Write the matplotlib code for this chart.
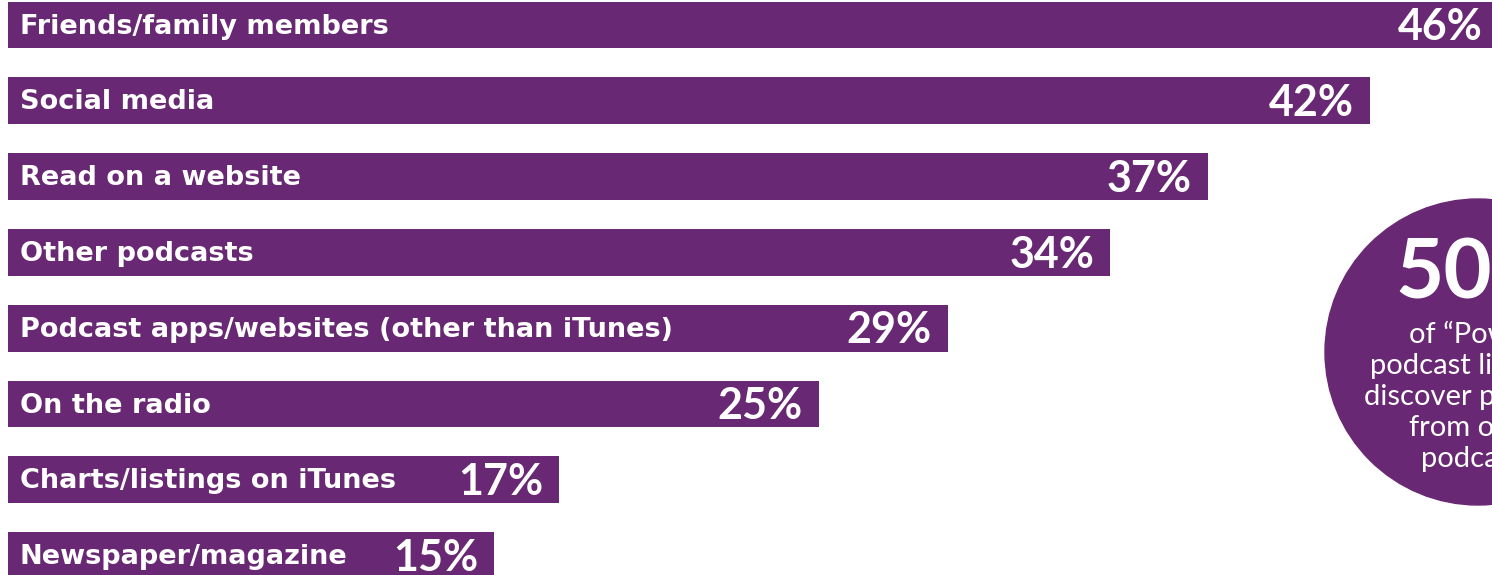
import matplotlib.pyplot as plt
from matplotlib.patches import Ellipse

categories = ['Friends/family members', 'Social media', 'Read on a website',
              'Other podcasts', 'Podcast apps/websites (other than iTunes)',
              'On the radio', 'Charts/listings on iTunes', 'Newspaper/magazine']
values = [46, 42, 37, 34, 29, 25, 17, 15]

callout_value = '50%'
callout_lines = ['of \u201cPower\u201d', 'podcast listeners', 'discover podcasts',
                 'from other', 'podcasts']

purple = '#692873'
W, H = 1492, 575

fig = plt.figure(figsize=(W / 100, H / 100), dpi=100)
ax = fig.add_axes([0, 0, 1, 1])

y = list(range(len(categories)))
ax.barh(y, values, height=0.62, color=purple, left=0)

for i, (cat, v) in enumerate(zip(categories, values)):
    ax.text(0.37, i + 0.02, cat, color='white', fontsize=19.5, fontweight='bold',
            family='DejaVu Sans', va='center', ha='left')
    ax.text(v - 0.5, i + 0.03, f'{v}%', color='white', fontsize=31,
            fontweight='bold', family='Lato', va='center', ha='right')

# x: 0% sits 8px in, 32.42px per percent; y: rows 75.8px apart
ax.set_xlim(-8 / 32.42, (W - 8) / 32.42)
ax.set_ylim((H - 25) / 75.8, -25 / 75.8)
ax.axis('off')

# callout circle at the right edge
def fx(px):
    return px / W

def fy(py):
    return 1 - py / H

fig.patches.append(Ellipse((fx(1478), fy(352)), 306 / W, 306 / H,
                           transform=fig.transFigure, color=purple, zorder=0))
fig.text(fx(1478), fy(298), callout_value, color='white', fontsize=60,
         fontweight='bold', family='Lato', ha='center', va='baseline')
for k, line in enumerate(callout_lines):
    fig.text(fx(1478), fy(343 + 31 * k), line, color='white', fontsize=21,
             fontweight='normal', family='Lato', ha='center', va='baseline')

fig.savefig('out.png', dpi=100)
